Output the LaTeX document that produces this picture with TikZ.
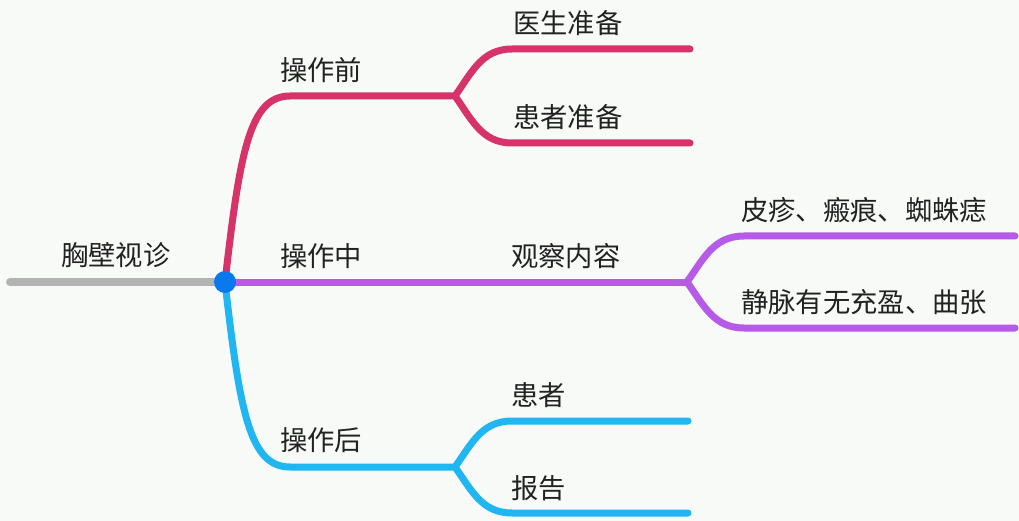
\documentclass[tikz,border=0pt]{standalone}
\usepackage{fontspec}
\newfontfamily\cjk{Noto Sans CJK SC}
\definecolor{bgc}{HTML}{F7FAF7}
\definecolor{redc}{HTML}{D6336B}
\definecolor{purc}{HTML}{B65AE8}
\definecolor{bluc}{HTML}{1FB6F2}
\definecolor{dotc}{HTML}{0B79EE}
\definecolor{grayc}{HTML}{B3B3B3}
\definecolor{txtc}{HTML}{222222}
\tikzset{
  lbl/.style={anchor=west, inner sep=0pt, font=\cjk\fontsize{27.3}{27.3}\selectfont, text=txtc},
  br/.style={line width=7pt, line cap=round, line join=round},
}
\begin{document}
\begin{tikzpicture}[x=1pt,y=-1pt]
\useasboundingbox (0,0) rectangle (1019,521);
\fill[bgc] (0,0) rectangle (1019,521);
% junction coordinates
\coordinate (rootL) at (10,282);
\coordinate (root) at (225,282);
\coordinate (preJ) at (455,96);
\coordinate (preA) at (690,49);
\coordinate (preB) at (690,143);
\coordinate (midJ) at (687,282);
\coordinate (midA) at (1015,236);
\coordinate (midB) at (1015,328);
\coordinate (postJ) at (455,467);
\coordinate (postA) at (688,421);
\coordinate (postB) at (688,513);
% labels
\node[lbl] (t0) at (61,255) {胸壁视诊};
\node[lbl] (t1) at (280,70) {操作前};
\node[lbl] (t1a) at (513,23) {医生准备};
\node[lbl] (t1b) at (513,117) {患者准备};
\node[lbl] (t2) at (280,256) {操作中};
\node[lbl] (t2a) at (511,256) {观察内容};
\node[lbl] (t2b) at (741,210) {皮疹、瘢痕、蜘蛛痣};
\node[lbl] (t2c) at (741,302) {静脉有无充盈、曲张};
\node[lbl] (t3) at (280,440) {操作后};
\node[lbl] (t3a) at (511,395) {患者};
\node[lbl] (t3b) at (511,488) {报告};
% connectors
\draw[br, grayc, line width=8pt] (rootL) -- (root);
\draw[br, redc] (root) .. controls (240,150) and (250,96) .. (290,96) -- (preJ);
\draw[br, redc] (preJ) .. controls (472,72) and (482,49) .. (512,49) -- (preA);
\draw[br, redc] (preJ) .. controls (472,120) and (482,143) .. (512,143) -- (preB);
\draw[br, purc] (root) -- (midJ);
\draw[br, purc] (midJ) .. controls (704,258) and (714,236) .. (744,236) -- (midA);
\draw[br, purc] (midJ) .. controls (704,306) and (714,328) .. (744,328) -- (midB);
\draw[br, bluc] (root) .. controls (240,414) and (250,467) .. (290,467) -- (postJ);
\draw[br, bluc] (postJ) .. controls (472,443) and (482,421) .. (512,421) -- (postA);
\draw[br, bluc] (postJ) .. controls (472,491) and (482,513) .. (512,513) -- (postB);
\fill[dotc] (root) circle (11);
\end{tikzpicture}
\end{document}
